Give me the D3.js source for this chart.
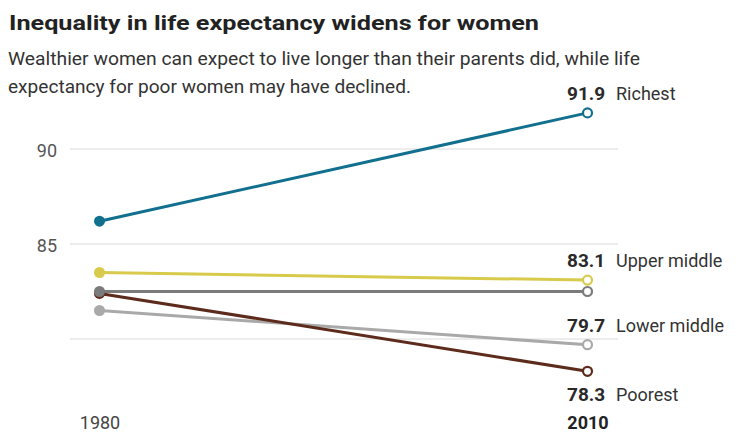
<!DOCTYPE html>
<html>
<head>
<meta charset="utf-8">
<script src="https://cdn.jsdelivr.net/npm/d3@7/dist/d3.min.js"></script>
<style>
  html, body { margin: 0; padding: 0; background: #fff; }
  svg { display: block; font-family: Roboto, "Noto Sans", sans-serif; }
</style>
</head>
<body>
<svg id="chart" width="747" height="446"></svg>
<script>
// ---- data ----
const years = [1980, 2010];
const seriesNames = ["Richest", "Upper middle", "Middle", "Lower middle", "Poorest"];
const values1980 = [86.2, 83.5, 82.5, 81.5, 82.4];
const values2010 = [91.9, 83.1, 82.5, 79.7, 78.3];
const labelled = [true, true, false, true, true];
const yTicks = [80, 85, 90];
const yTickLabels = ["", "85", "90"];
const colors = ["#12708f", "#d8cb4c", "#7b7b7b", "#a9a9a9", "#5d2b1c"];

const svg = d3.select("#chart");
const W = 747, H = 446;
svg.append("rect").attr("width", W).attr("height", H).attr("fill", "#fff");

// Title & subtitle
svg.append("text").attr("x", 9).attr("y", 30)
  .attr("font-size", 21).attr("font-weight", 700).attr("fill", "#222")
  .attr("textLength", 530).attr("lengthAdjust", "spacingAndGlyphs")
  .text("Inequality in life expectancy widens for women");
svg.append("text").attr("x", 8).attr("y", 65)
  .attr("font-size", 18).attr("fill", "#333")
  .attr("textLength", 632).attr("lengthAdjust", "spacingAndGlyphs")
  .text("Wealthier women can expect to live longer than their parents did, while life");
svg.append("text").attr("x", 8).attr("y", 93)
  .attr("font-size", 18).attr("fill", "#333")
  .attr("textLength", 403).attr("lengthAdjust", "spacingAndGlyphs")
  .text("expectancy for poor women may have declined.");

// Scales
const x = d3.scalePoint().domain(years).range([99.5, 587.5]);
const y = d3.scaleLinear().domain([80, 90]).range([339, 149]);

// Gridlines
const grid = svg.append("g");
grid.selectAll("line").data(yTicks).join("line")
  .attr("x1", 70).attr("x2", 618)
  .attr("y1", d => y(d)).attr("y2", d => y(d))
  .attr("stroke", "#dadada").attr("stroke-width", 1);

// Y axis labels
const yAxis = d3.axisLeft(y).tickValues(yTicks).tickSize(0)
  .tickFormat((d, i) => yTickLabels[i]);
const gy = svg.append("g").attr("transform", "translate(60,0)").call(yAxis);
gy.select(".domain").remove();
gy.selectAll("text").attr("font-size", 18).attr("fill", "#555")
  .attr("font-family", "Roboto, sans-serif").attr("dy", "0.4em");

// X axis labels
const xAxis = d3.axisBottom(x).tickSize(0);
const gx = svg.append("g").attr("transform", "translate(0,413)").call(xAxis);
gx.select(".domain").remove();
gx.selectAll("text").attr("font-size", 18)
  .attr("font-family", "Roboto, sans-serif").attr("dy", "0.72em")
  .attr("font-weight", d => d === 2010 ? 700 : 400)
  .attr("fill", d => d === 2010 ? "#222" : "#444");

// Series data
const series = seriesNames.map((n, i) => ({
  name: n, v0: values1980[i], v1: values2010[i], color: colors[i], lab: labelled[i], idx: i
}));
// Draw order: poorest line on top of lower middle, middle gray circle above brown start
const order = [0, 3, 4, 2, 1];
const ordered = order.map(i => series[i]);

const line = d3.line().x(d => x(d[0])).y(d => y(d[1]));
svg.append("g").selectAll("path").data(ordered).join("path")
  .attr("d", d => line([[years[0], d.v0], [years[1], d.v1]]))
  .attr("fill", "none").attr("stroke", d => d.color).attr("stroke-width", 3);

// 1980 circles (filled)
svg.append("g").selectAll("circle").data(ordered).join("circle")
  .attr("cx", x(years[0])).attr("cy", d => y(d.v0)).attr("r", 5.5)
  .attr("fill", d => d.color);

// 2010 circles (hollow)
svg.append("g").selectAll("circle").data(ordered).join("circle")
  .attr("cx", x(years[1])).attr("cy", d => y(d.v1)).attr("r", 4.5)
  .attr("fill", "#fff").attr("stroke", d => d.color).attr("stroke-width", 2.2);

// Labels
const labs = svg.append("g").selectAll("g").data(series.filter(d => d.lab)).join("g")
  .attr("transform", d => {
    const yy = d.name === "Poorest" ? y(d.v1) + 30 : y(d.v1) - 13;
    return `translate(567,${yy})`;
  });
labs.append("text").attr("x", 0).attr("font-size", 19).attr("font-weight", 700)
  .attr("fill", "#2a2a2a").text(d => d3.format(".1f")(d.v1));
labs.append("text").attr("x", 49).attr("font-size", 18).attr("fill", "#333")
  .text(d => d.name);
</script>
</body>
</html>
